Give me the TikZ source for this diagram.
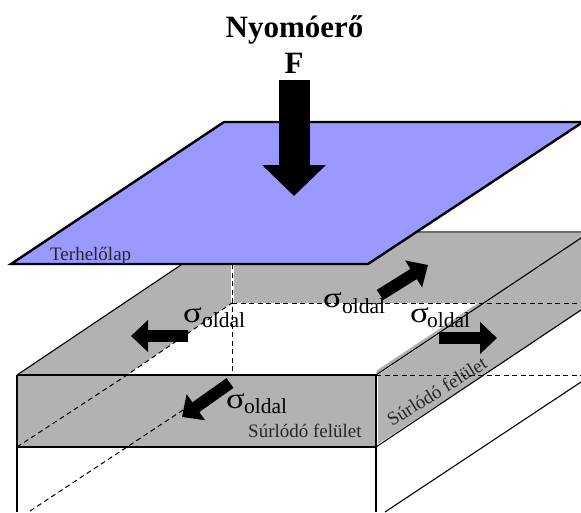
\documentclass[tikz,border=0pt]{standalone}
\usepackage{fontspec}
\setmainfont{Liberation Serif}
\usetikzlibrary{arrows.meta}
\definecolor{cPlate}{HTML}{9999FF}
\definecolor{cFace}{HTML}{B2B2B2}
\definecolor{cEdge}{HTML}{6E6E6E}
\tikzset{
  face/.style={fill=cFace,draw=none},
  edge/.style={line width=1.1pt,black},
  hidden/.style={line width=1pt,black,dash pattern=on 5pt off 3.5pt},
  plate/.style={fill=cPlate,draw=black,line width=2.4pt,line join=miter},
  force/.style={line width=31pt,black,-{Triangle[length=31pt,width=62pt]}},
  stress/.style={line width=12pt,black,-{Triangle[length=17pt,width=31pt]}},
  title/.style={font=\fontsize{31}{31}\selectfont\bfseries,inner sep=0pt,anchor=base},
  lbl/.style={font=\fontsize{19}{19}\selectfont,inner sep=0pt,anchor=base west,text=black!85},
  sig/.style={inner sep=0pt,anchor=base west},
}
\newcommand{\sigoldal}{\scalebox{1.2}[1]{\fontsize{29}{29}\selectfont σ}}
\newcommand{\suboldal}{\fontsize{21.5}{22}\selectfont oldal}

\begin{document}
\begin{tikzpicture}[x=1pt,y=-1pt]
\useasboundingbox (0,0) rectangle (581,512);

% ============ CORNERS ============
\coordinate (fl) at (17,375);
\coordinate (fr) at (376,375);
\coordinate (bl) at (230,232);
\coordinate (flLow) at (17,447);
\coordinate (frLow) at (376,447);
\coordinate (inFl) at (127,375);
\coordinate (inBl) at (232,303);

% ============ GREY FACES ============
\fill[face] (fl) -- (bl) -- (581,232) -- (581,238) -- (fr) -- cycle;
\fill[white] (inBl) -- (inFl) -- (fr) -- (377,370) -- (478,303) -- cycle;
\fill[face] (fl) rectangle (375,447);
\fill[face] (378,375) -- (581,238) -- (581,310) -- (520,351) -- (378,444) -- cycle;

% ---------- block edges ----------
\draw[edge] (fl) -- (fr);
\draw[edge] (flLow) -- (frLow);
\draw[edge] (fl) -- (17,512);
\draw[edge] (fr) -- (376,512);
\draw[edge] (fl) -- (bl);
\draw[edge] (fr) -- (581,238);
\draw[edge] (frLow) -- (581,310);
\draw[edge] (385,512) -- (581,382);
\draw[line width=1.1pt,cEdge] (bl) -- (581,232);

% ---------- hidden edges ----------
\draw[white,line width=3pt] (232,264) -- (inBl);
\draw[hidden] (232,264) -- (232,375);
\draw[hidden] (inBl) -- (581,303);
\draw[hidden] (fr) -- (581,375);
\draw[hidden] (flLow) -- (inFl) -- (inBl);
\draw[hidden] (30,511) -- (inFl |- flLow) -- (183,410);

% ============ LOADING PLATE ============
\draw[plate] (11,264) -- (224,122) -- (583,122) -- (368,264) -- cycle;
\node[lbl] (plateLbl) at (50,260) {Terhelőlap};

% ============ FORCES ============
\coordinate (fTail) at (294,80);
\coordinate (fTip) at (294,196);
\draw[force] (fTail) -- (fTip);
\node[title] (titleNode) at (294.5,37) {Nyomóerő};
\node[title] (titleF) at (294,73) {F};

\draw[stress] (188,336) -- (131,336);
\draw[stress] (230,383) -- (182,417);
\draw[stress] (380,295) -- (428,265);
\draw[stress] (439,338) -- (497,338);

% ---------- stress labels ----------
\node[sig] (sigLeft) at (183,322) {\sigoldal};
\node[sig] (subLeft) at (202,327) {\suboldal};
\node[sig] (sigFront) at (226,408) {\sigoldal};
\node[sig] (subFront) at (244,413) {\suboldal};
\node[sig] (sigBack) at (323,307) {\sigoldal};
\node[sig] (subBack) at (342,313) {\suboldal};
\node[sig] (sigRight) at (410,322) {\sigoldal};
\node[sig] (subRight) at (427,327) {\suboldal};

% ---------- friction labels ----------
\node[lbl] (fricFront) at (248,437) {Súrlódó felület};
\node[lbl,rotate=32] (fricSide) at (392,427) {Súrlódó felület};

\end{tikzpicture}
\end{document}
